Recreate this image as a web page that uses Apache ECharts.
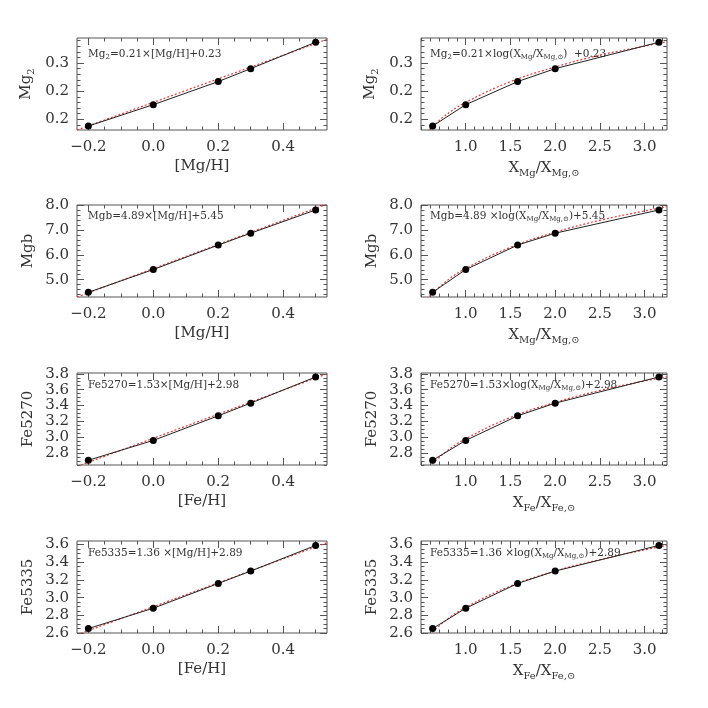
<!DOCTYPE html>
<html>
<head>
<meta charset="utf-8">
<script src="https://cdn.jsdelivr.net/npm/echarts@6/dist/echarts.min.js"></script>
<style>
html, body { margin: 0; padding: 0; background: #fff; }
#main { width: 708px; height: 708px; }
</style>
</head>
<body>
<div id="main"></div>
<script>
// abundance on the x axes
var xMetal = [-0.2, 0.0, 0.2, 0.3, 0.5];
var xRatio = [0.63, 1.0, 1.58, 2.0, 3.16];

// index values (same model points in left and right panels)
var mg2 = [0.188, 0.226, 0.267, 0.290, 0.337];
var mgb = [4.49, 5.41, 6.40, 6.88, 7.82];
var fe5270 = [2.71, 2.96, 3.27, 3.43, 3.76];
var fe5335 = [2.65, 2.88, 3.16, 3.30, 3.59];

// fitted relations (red dotted)
var fitMetalX = [-0.235, 0.535];
var fitMg2Metal = [0.181, 0.342];
var fitMgbMetal = [4.30, 8.06];
var fitFe5270Metal = [2.63, 3.80];
var fitFe5335Metal = [2.58, 3.62];

var fitRatioX = [0.5, 0.75, 1.0, 1.5, 2.0, 2.5, 3.0, 3.25];
var fitMg2Ratio = [0.167, 0.204, 0.230, 0.267, 0.293, 0.314, 0.330, 0.338];
var fitMgbRatio = [3.98, 4.84, 5.45, 6.31, 6.92, 7.40, 7.78, 7.95];
var fitFe5270Ratio = [2.52, 2.79, 2.98, 3.25, 3.44, 3.59, 3.71, 3.76];
var fitFe5335Ratio = [2.48, 2.72, 2.89, 3.13, 3.30, 3.43, 3.54, 3.59];

// tick labels
var metalTicks = [-0.2, 0.0, 0.2, 0.4];
var metalTickLabels = ['\u22120.2', '0.0', '0.2', '0.4'];
var ratioTicks = [1.0, 1.5, 2.0, 2.5, 3.0];
var ratioTickLabels = ['1.0', '1.5', '2.0', '2.5', '3.0'];
var mg2Ticks = [0.2, 0.25, 0.3];
var mg2TickLabels = ['0.2', '0.2', '0.3'];
var mgbTicks = [5, 6, 7, 8];
var mgbTickLabels = ['5.0', '6.0', '7.0', '8.0'];
var fe5270Ticks = [2.8, 3.0, 3.2, 3.4, 3.6, 3.8];
var fe5270TickLabels = ['2.8', '3.0', '3.2', '3.4', '3.6', '3.8'];
var fe5335Ticks = [2.6, 2.8, 3.0, 3.2, 3.4, 3.6];
var fe5335TickLabels = ['2.6', '2.8', '3.0', '3.2', '3.4', '3.6'];

// texts
var yNames = ['{a|Mg}{s|2}', '{a|Mgb}', '{a|Fe5270}', '{a|Fe5335}'];
var xNamesLeft = ['[Mg/H]', '[Mg/H]', '[Fe/H]', '[Fe/H]'];
var xNamesRight = ['{a|X}{s|Mg}{a|/X}{s|Mg,\u2299}', '{a|X}{s|Mg}{a|/X}{s|Mg,\u2299}',
                   '{a|X}{s|Fe}{a|/X}{s|Fe,\u2299}', '{a|X}{s|Fe}{a|/X}{s|Fe,\u2299}'];
var eqLeft = ['{a|Mg}{s|2}{a|=0.21\u00d7[Mg/H]+0.23}', '{a|Mgb=4.89\u00d7[Mg/H]+5.45}',
              '{a|Fe5270=1.53\u00d7[Mg/H]+2.98}', '{a|Fe5335=1.36 \u00d7[Mg/H]+2.89}'];
var eqRight = ['{a|Mg}{s|2}{a|=0.21\u00d7log(X}{s|Mg}{a|/X}{s|Mg,\u2299}{a|)  +0.23}',
               '{a|Mgb=4.89 \u00d7log(X}{s|Mg}{a|/X}{s|Mg,\u2299}{a|)+5.45}',
               '{a|Fe5270=1.53\u00d7log(X}{s|Mg}{a|/X}{s|Mg,\u2299}{a|)+2.98}',
               '{a|Fe5335=1.36 \u00d7log(X}{s|Mg}{a|/X}{s|Mg,\u2299}{a|)+2.89}'];

var FONT = 'DejaVu Serif';
var TXT = '#333';
var FRAME = '#555';

// panel rows
var rows = [
    {y: mg2, ticks: mg2Ticks, labels: mg2TickLabels, min: 0.181, max: 0.3445, minor: 0.01,
     fitL: fitMg2Metal, fitR: fitMg2Ratio},
    {y: mgb, ticks: mgbTicks, labels: mgbTickLabels, min: 4.3, max: 8.02, minor: 0.2,
     fitL: fitMgbMetal, fitR: fitMgbRatio},
    {y: fe5270, ticks: fe5270Ticks, labels: fe5270TickLabels, min: 2.65, max: 3.81, minor: 0.05,
     fitL: fitFe5270Metal, fitR: fitFe5270Ratio},
    {y: fe5335, ticks: fe5335Ticks, labels: fe5335TickLabels, min: 2.6, max: 3.64, minor: 0.05,
     fitL: fitFe5335Metal, fitR: fitFe5335Ratio}
];

var rowTop = [38, 205, 373, 541];
var rowH = 92;
var eqOffset = [16, 11, 12, 12];
var cols = [
    {left: 77, width: 250, min: -0.235, max: 0.535, minor: 0.05, ticks: metalTicks, labels: metalTickLabels},
    {left: 421, width: 246, min: 0.5, max: 3.25, minor: 0.1, ticks: ratioTicks, labels: ratioTickLabels}
];

var richStyle = {
    a: {fontFamily: FONT, fontSize: 15, color: TXT},
    s: {fontFamily: FONT, fontSize: 10, color: TXT, padding: [9, 0, 0, 0]}
};
var eqRich = {
    a: {fontFamily: FONT, fontSize: 10.5, color: TXT},
    s: {fontFamily: FONT, fontSize: 7, color: TXT, padding: [6, 0, 0, 0]}
};

function minorValues(min, max, step, majors) {
    var out = [];
    var k0 = Math.ceil(min / step - 1e-6), k1 = Math.floor(max / step + 1e-6);
    for (var k = k0; k <= k1; k++) {
        var v = +(k * step).toFixed(6);
        var isMajor = majors.some(function (m) { return Math.abs(m - v) < 1e-6; });
        if (!isMajor) out.push(v);
    }
    return out;
}

function labelFormatter(ticks, labels) {
    return function (v) {
        for (var i = 0; i < ticks.length; i++) {
            if (Math.abs(ticks[i] - v) < 1e-6) return labels[i];
        }
        return '';
    };
}

function addAxis(list, gi, pos, min, max, ticks, len, extra) {
    var ax = {
        type: 'value', gridIndex: gi, position: pos, min: min, max: max,
        axisLine: {show: false, onZero: false},
        splitLine: {show: false},
        axisTick: {show: true, inside: true, length: len, customValues: ticks,
                   lineStyle: {color: FRAME, width: 1}},
        axisLabel: {show: false}
    };
    if (extra) for (var k in extra) ax[k] = extra[k];
    list.push(ax);
    return list.length - 1;
}

var option = {
    animation: false,
    backgroundColor: '#fff',
    grid: [], xAxis: [], yAxis: [], series: [], graphic: []
};

rows.forEach(function (row, r) {
    cols.forEach(function (col, c) {
        var gi = option.grid.length;
        option.grid.push({
            left: col.left, top: rowTop[r], width: col.width, height: rowH,
            show: true, borderColor: FRAME, borderWidth: 1, backgroundColor: 'transparent'
        });

        var xMinor = minorValues(col.min, col.max, col.minor, col.ticks);
        var yMinor = minorValues(row.min, row.max, row.minor, row.ticks);

        var xi = addAxis(option.xAxis, gi, 'bottom', col.min, col.max, col.ticks, 7, {
            axisLabel: {show: true, customValues: col.ticks, formatter: labelFormatter(col.ticks, col.labels),
                        margin: 10, fontFamily: FONT, fontSize: 15, color: TXT},
            name: c === 0 ? xNamesLeft[r] : xNamesRight[r],
            nameLocation: 'middle', nameGap: 29,
            nameTextStyle: {fontFamily: FONT, fontSize: 15, color: TXT, rich: richStyle}
        });
        addAxis(option.xAxis, gi, 'bottom', col.min, col.max, xMinor, 3.5);
        addAxis(option.xAxis, gi, 'top', col.min, col.max, col.ticks, 7);
        addAxis(option.xAxis, gi, 'top', col.min, col.max, xMinor, 3.5);

        var yi = addAxis(option.yAxis, gi, 'left', row.min, row.max, row.ticks, 7, {
            axisLabel: {show: true, customValues: row.ticks, formatter: labelFormatter(row.ticks, row.labels),
                        margin: 8, fontFamily: FONT, fontSize: 15, color: TXT},
            name: yNames[r], nameLocation: 'middle', nameGap: 41, nameRotate: 90,
            nameTextStyle: {fontFamily: FONT, fontSize: 15, color: TXT, rich: richStyle}
        });
        addAxis(option.yAxis, gi, 'left', row.min, row.max, yMinor, 3.5);
        addAxis(option.yAxis, gi, 'right', row.min, row.max, row.ticks, 7);
        addAxis(option.yAxis, gi, 'right', row.min, row.max, yMinor, 3.5);

        var xs = c === 0 ? xMetal : xRatio;
        var fx = c === 0 ? fitMetalX : fitRatioX;
        var fy = c === 0 ? row.fitL : row.fitR;

        option.series.push({
            type: 'line', xAxisIndex: xi, yAxisIndex: yi,
            data: fx.map(function (x, i) { return [x, fy[i]]; }),
            symbol: 'none', smooth: c === 1 ? 0.4 : false, clip: true, z: 2,
            lineStyle: {color: '#e23a3a', width: 1.2, type: [2, 2]}
        });
        option.series.push({
            type: 'line', xAxisIndex: xi, yAxisIndex: yi,
            data: xs.map(function (x, i) { return [x, row.y[i]]; }),
            symbol: 'circle', symbolSize: 7, clip: false, z: 3,
            itemStyle: {color: '#000'},
            lineStyle: {color: '#222', width: 1}
        });

        option.graphic.push({
            type: 'text',
            x: col.left + (c === 0 ? 11 : 9),
            y: rowTop[r] + eqOffset[r],
            style: {
                text: c === 0 ? eqLeft[r] : eqRight[r],
                rich: eqRich,
                verticalAlign: 'middle',
                fill: TXT
            }
        });
    });
});

var chart = echarts.init(document.getElementById('main'), null, {renderer: 'canvas'});
chart.setOption(option);
</script>
</body>
</html>
